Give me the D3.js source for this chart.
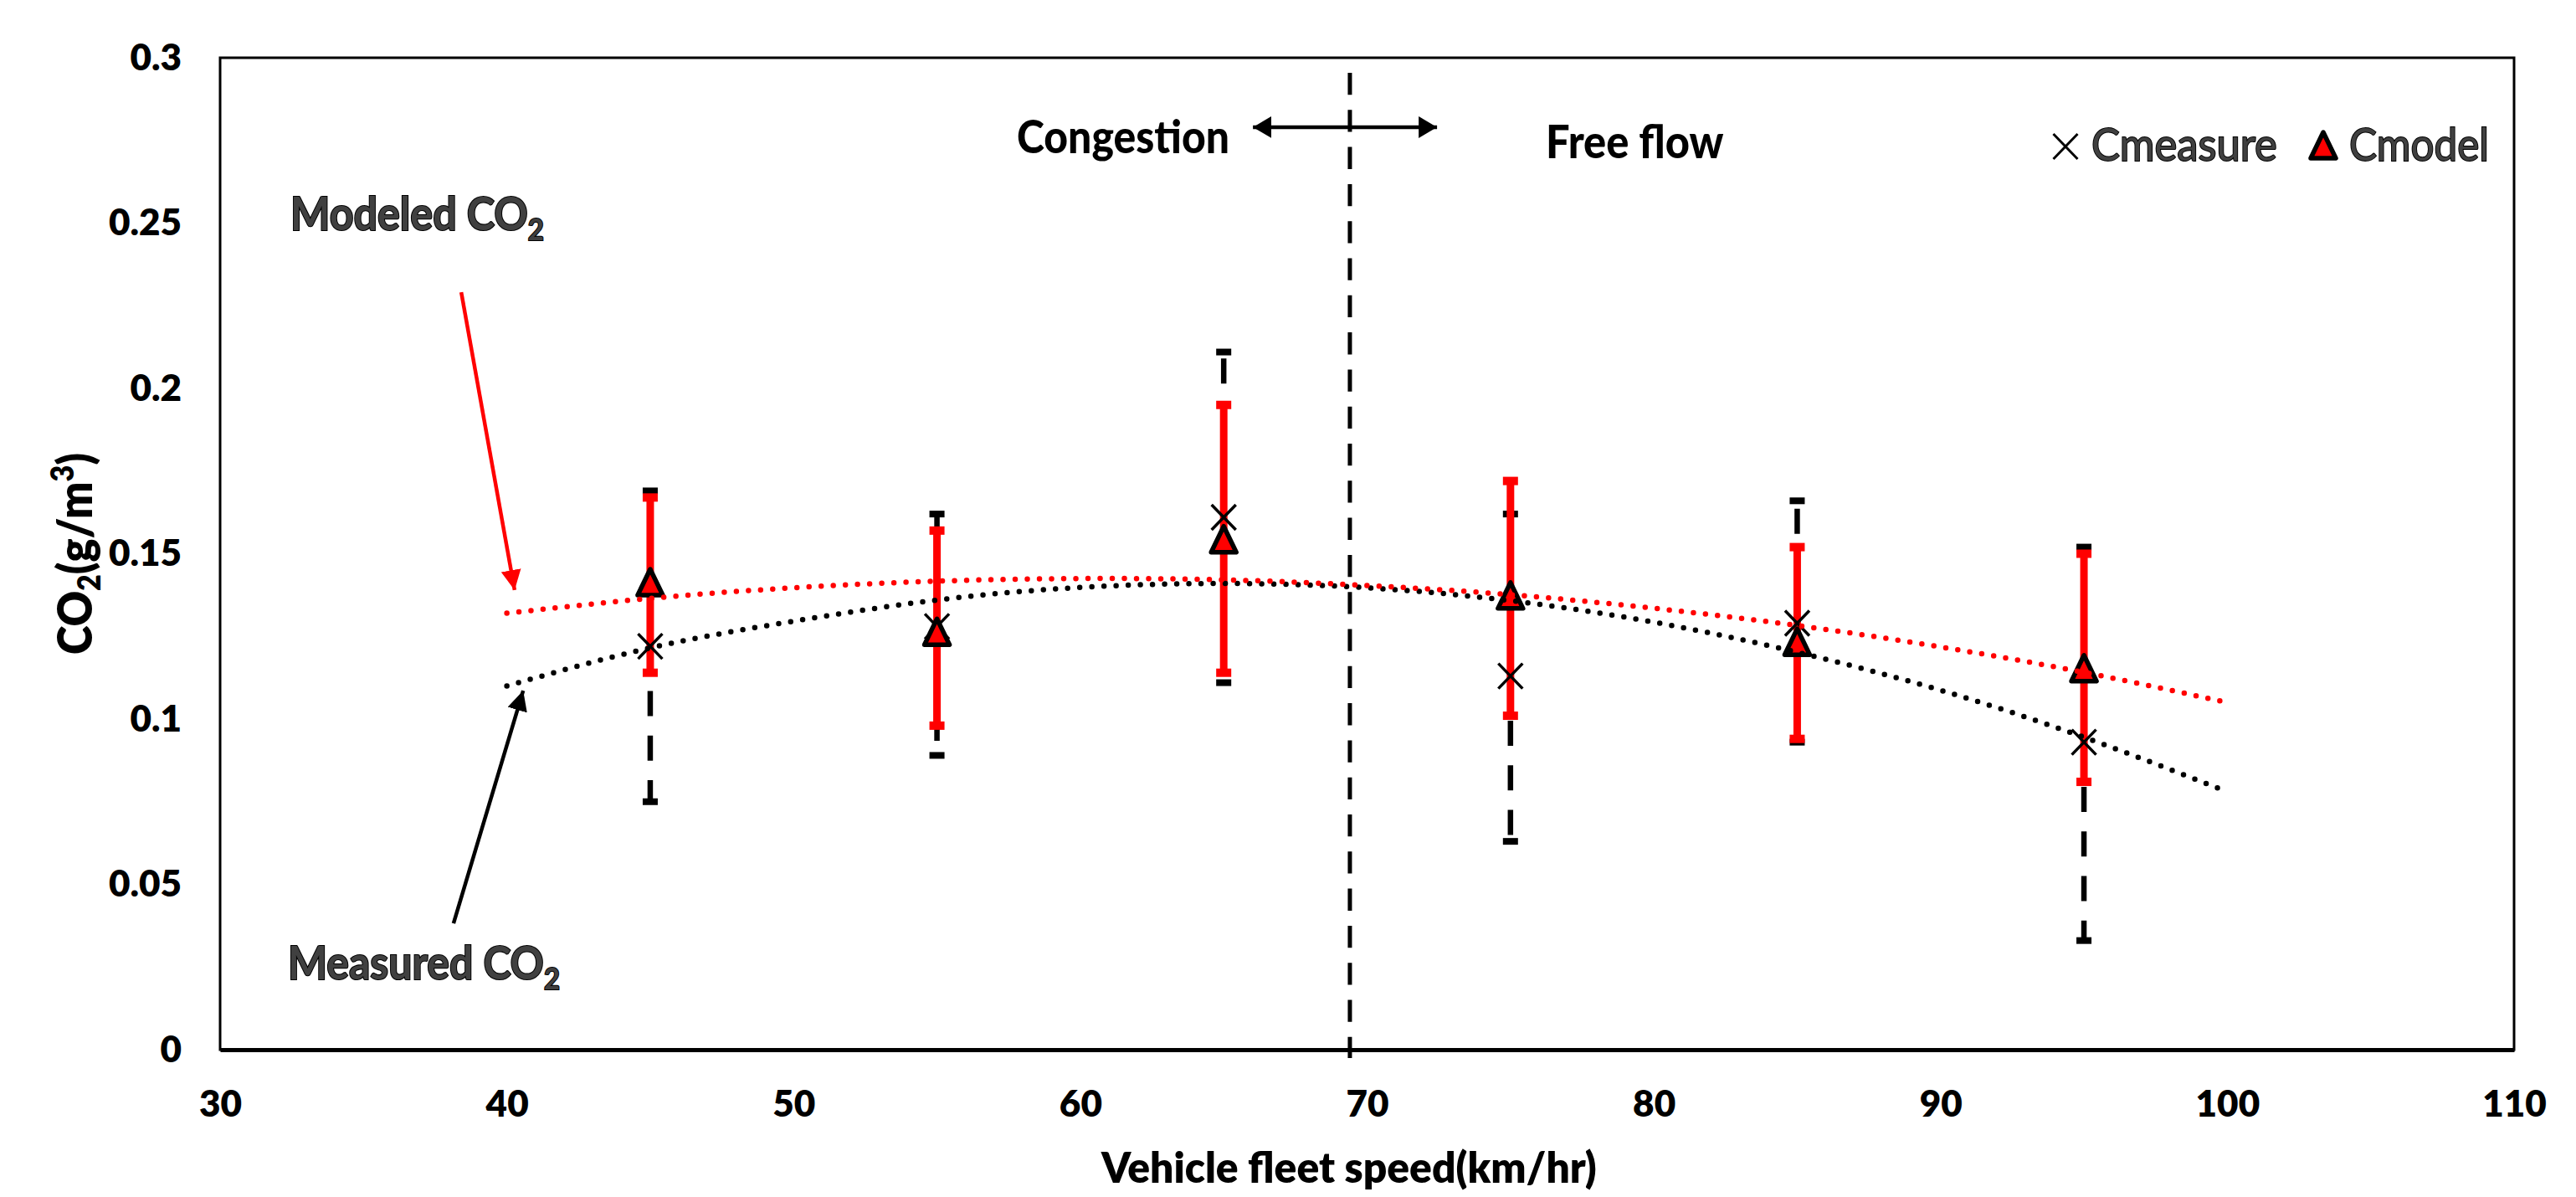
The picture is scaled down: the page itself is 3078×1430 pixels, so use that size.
<!DOCTYPE html>
<html>
<head>
<meta charset="utf-8">
<script src="https://cdn.jsdelivr.net/npm/d3@7"></script>
<style>
  html, body { margin: 0; padding: 0; background: #fff; }
  svg { display: block; }
  text { font-family: Lato, "Open Sans", sans-serif; }
</style>
</head>
<body>
<svg id="chart" width="3078" height="1430"></svg>
<script>
// ---------- data ----------
const speeds      = [45, 55, 65, 75, 85, 95];
const cMeasure    = [0.122, 0.128, 0.161, 0.113, 0.129, 0.093];
const cModel      = [0.141, 0.126, 0.154, 0.137, 0.123, 0.115];
const measureHigh = [0.169, 0.162, 0.211, 0.162, 0.166, 0.152];
const measureLow  = [0.075, 0.089, 0.111, 0.063, 0.093, 0.033];
const modelHigh   = [0.167, 0.157, 0.195, 0.172, 0.152, 0.150];
const modelLow    = [0.114, 0.098, 0.114, 0.101, 0.094, 0.081];

// trend lines (dotted) read at these speeds
const trendX        = [40, 45, 50, 55, 60, 65, 70, 75, 80, 85, 90, 95, 100];
const trendModel    = [0.132, 0.1365, 0.1397, 0.1417, 0.1425, 0.1421, 0.1404, 0.1376, 0.1335, 0.1283, 0.1218, 0.1141, 0.105];
const trendMeasure  = [0.110, 0.1215, 0.1296, 0.1360, 0.1398, 0.1410, 0.1397, 0.1358, 0.1293, 0.1202, 0.1087, 0.0945, 0.0780];

const xTicks      = [30, 40, 50, 60, 70, 80, 90, 100, 110];
const yTicks      = [0, 0.05, 0.1, 0.15, 0.2, 0.25, 0.3];
const yTickLabels = ["0", "0.05", "0.1", "0.15", "0.2", "0.25", "0.3"];
const regimeSplit = 69.4;

// ---------- scales ----------
const svg = d3.select("#chart");
const x = d3.scaleLinear().domain([30, 110]).range([263, 3004]);
const y = d3.scaleLinear().domain([0, 0.3]).range([1254, 69]);

function fitStart(sel, targetW) {
  const node = sel.node();
  const w = node.getBBox().width;
  const x0 = +sel.attr("x"), y0 = +sel.attr("y");
  const k = targetW / w;
  sel.attr("transform", `translate(${x0},${y0}) scale(${k},1) translate(${-x0},${-y0})`);
}

// ---------- frame ----------
svg.append("rect")
  .attr("x", x(30)).attr("y", y(0.3))
  .attr("width", x(110) - x(30)).attr("height", y(0) - y(0.3))
  .attr("fill", "none").attr("stroke", "#000").attr("stroke-width", 3);

// ---------- axes ----------
const yAxis = svg.append("g").attr("transform", `translate(${x(30)},0)`)
  .call(d3.axisLeft(y).tickValues(yTicks).tickSize(0).tickPadding(46)
        .tickFormat((d, i) => yTickLabels[i]));
yAxis.select(".domain").remove();
yAxis.selectAll("text").attr("font-family", "Lato").attr("font-weight", 800)
  .attr("font-size", 44).attr("fill", "#000");

const xAxis = svg.append("g").attr("transform", `translate(0,${y(0)})`)
  .call(d3.axisBottom(x).tickValues(xTicks).tickSize(0).tickPadding(49).tickFormat(d3.format("d")));
xAxis.select(".domain").attr("stroke", "#000").attr("stroke-width", 5);
xAxis.selectAll("text").attr("font-family", "Lato").attr("font-weight", 800)
  .attr("font-size", 44).attr("fill", "#000");

// axis titles
const xt = svg.append("text").attr("x", 1316).attr("y", 1413)
  .attr("font-weight", 800).attr("font-size", 52).attr("fill", "#000")
  .text("Vehicle fleet speed(km/hr)");
fitStart(xt, 593);

const ytG = svg.append("g").attr("transform", "translate(110,662) rotate(-90)");
const yt = ytG.append("text").attr("x", -120).attr("y", 0)
  .attr("font-weight", 800).attr("font-size", 57).attr("fill", "#000");
yt.append("tspan").text("CO");
yt.append("tspan").attr("font-size", 37).attr("dy", 10).text("2");
yt.append("tspan").attr("dy", -10).text("(g/m");
yt.append("tspan").attr("font-size", 37).attr("dy", -22).text("3");
yt.append("tspan").attr("dy", 22).text(")");
fitStart(yt, 241);

// ---------- regime separator ----------
svg.append("line")
  .attr("x1", x(regimeSplit)).attr("x2", x(regimeSplit))
  .attr("y1", y(0.3)).attr("y2", y(0) + 10)
  .attr("stroke", "#000").attr("stroke-width", 5)
  .attr("stroke-dasharray", "26.3 18").attr("stroke-dashoffset", 26.3);

// double arrow
const defs = svg.append("defs");
function arrowMarker(id, color, w, h) {
  defs.append("marker").attr("id", id)
    .attr("viewBox", `0 0 ${w} ${h}`).attr("refX", w).attr("refY", h / 2)
    .attr("markerWidth", w).attr("markerHeight", h)
    .attr("markerUnits", "userSpaceOnUse").attr("orient", "auto-start-reverse")
    .append("path").attr("d", `M0,0L${w},${h / 2}L0,${h}Z`).attr("fill", color);
}
arrowMarker("arrBlk", "#000", 24, 24);
arrowMarker("arrRed", "#f00", 24, 24);
arrowMarker("arrDbl", "#000", 22, 26);

svg.append("line")
  .attr("x1", x(66.02)).attr("x2", x(72.44))
  .attr("y1", y(0.279)).attr("y2", y(0.279))
  .attr("stroke", "#000").attr("stroke-width", 4.5)
  .attr("marker-start", "url(#arrDbl)").attr("marker-end", "url(#arrDbl)");

const cg = svg.append("text").attr("x", 1215).attr("y", 183)
  .attr("font-weight", 900).attr("font-size", 55).attr("fill", "#000").text("Congestion");
fitStart(cg, 254);
const ff = svg.append("text").attr("x", 1847).attr("y", 189)
  .attr("font-weight", 900).attr("font-size", 55).attr("fill", "#000").text("Free flow");
fitStart(ff, 213);

// ---------- error bars ----------
const gErr = svg.append("g");
speeds.forEach((s, i) => {
  // measured: dashed black, drawn from point outward
  [measureHigh[i], measureLow[i]].forEach(v => {
    gErr.append("line")
      .attr("x1", x(s)).attr("x2", x(s))
      .attr("y1", y(cMeasure[i])).attr("y2", y(v))
      .attr("stroke", "#000").attr("stroke-width", 6.5)
      .attr("stroke-dasharray", "30 23.3");
    gErr.append("rect")
      .attr("x", x(s) - 9).attr("y", y(v) - 4)
      .attr("width", 18).attr("height", 8).attr("fill", "#000");
  });
});
speeds.forEach((s, i) => {
  gErr.append("line")
    .attr("x1", x(s)).attr("x2", x(s))
    .attr("y1", y(modelHigh[i])).attr("y2", y(modelLow[i]))
    .attr("stroke", "#f00").attr("stroke-width", 9);
  [modelHigh[i], modelLow[i]].forEach(v => {
    gErr.append("rect")
      .attr("x", x(s) - 9).attr("y", y(v) - 5)
      .attr("width", 18).attr("height", 10).attr("fill", "#f00");
  });
});

// ---------- markers ----------
const crossPath = "M-14.5,-15L14.5,15M-14.5,15L14.5,-15";
const triPath = "M0,-17L15,14L-15,14Z";
svg.append("g").selectAll("path").data(speeds).join("path")
  .attr("transform", (d, i) => `translate(${x(d)},${y(cMeasure[i])})`)
  .attr("d", crossPath).attr("stroke", "#000").attr("stroke-width", 3.5).attr("fill", "none");
svg.append("g").selectAll("path").data(speeds).join("path")
  .attr("transform", (d, i) => `translate(${x(d)},${y(cModel[i])})`)
  .attr("d", triPath).attr("stroke", "#000").attr("stroke-width", 5.5)
  .attr("stroke-linejoin", "round").attr("fill", "#f00");

// ---------- trend lines ----------
const line = d3.line().curve(d3.curveNatural);
svg.append("path")
  .attr("d", line(trendX.map((t, i) => [x(t), y(trendMeasure[i])])))
  .attr("fill", "none").attr("stroke", "#000").attr("stroke-width", 6.5)
  .attr("stroke-linecap", "round").attr("stroke-dasharray", "0 14.5");
svg.append("path")
  .attr("d", line(trendX.map((t, i) => [x(t), y(trendModel[i])])))
  .attr("fill", "none").attr("stroke", "#f00").attr("stroke-width", 6.5)
  .attr("stroke-linecap", "round").attr("stroke-dasharray", "0 14.5");

// ---------- annotations ----------
svg.append("line")
  .attr("x1", x(38.41)).attr("y1", y(0.2291))
  .attr("x2", x(40.27)).attr("y2", y(0.139))
  .attr("stroke", "#f00").attr("stroke-width", 4.5).attr("marker-end", "url(#arrRed)");
svg.append("line")
  .attr("x1", x(38.14)).attr("y1", y(0.0382))
  .attr("x2", x(40.57)).attr("y2", y(0.1086))
  .attr("stroke", "#000").attr("stroke-width", 4.5).attr("marker-end", "url(#arrBlk)");

function outlinedLabel(px, py, main, sub, targetW) {
  const t = svg.append("text").attr("x", px).attr("y", py)
    .attr("font-weight", 700).attr("font-size", 55)
    .attr("fill", "#404040").attr("stroke", "#000").attr("stroke-width", 2.2)
    .attr("paint-order", "stroke");
  t.append("tspan").text(main);
  t.append("tspan").attr("font-size", 36).attr("dy", 12).text(sub);
  fitStart(t, targetW);
}
outlinedLabel(347, 275, "Modeled CO", "2", 303);
outlinedLabel(344, 1170, "Measured CO", "2", 325);

// ---------- legend ----------
svg.append("path").attr("transform", "translate(2468,175)")
  .attr("d", crossPath).attr("stroke", "#000").attr("stroke-width", 3).attr("fill", "none");
svg.append("path").attr("transform", "translate(2776,175)")
  .attr("d", triPath).attr("stroke", "#000").attr("stroke-width", 5.5)
  .attr("stroke-linejoin", "round").attr("fill", "#f00");
const l1 = svg.append("text").attr("x", 2499).attr("y", 192)
  .attr("font-weight", 400).attr("font-size", 54)
  .attr("fill", "#404040").attr("stroke", "#000").attr("stroke-width", 2)
  .attr("paint-order", "stroke").text("Cmeasure");
fitStart(l1, 222);
const l2 = svg.append("text").attr("x", 2807).attr("y", 192)
  .attr("font-weight", 400).attr("font-size", 54)
  .attr("fill", "#404040").attr("stroke", "#000").attr("stroke-width", 2)
  .attr("paint-order", "stroke").text("Cmodel");
fitStart(l2, 167);
</script>
</body>
</html>
